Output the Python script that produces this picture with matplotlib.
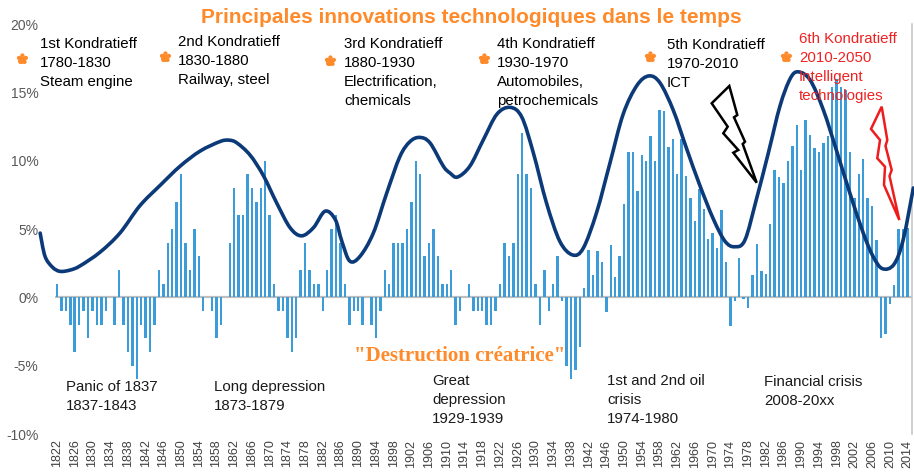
import numpy as np
import matplotlib.pyplot as plt
from matplotlib.patches import Polygon, PathPatch, Circle
from matplotlib.path import Path

plt.rcParams['font.family'] = ['Liberation Sans', 'DejaVu Sans']

# yearly growth (%), 1822-2014
years = np.arange(1822, 2015)
growth = [
    1, -1, -1, -2, -4, -2, -1, -3,                      # 1822-1829
    -1, -2, -2, -1, 0, -2, 2, -2, -4, -5,               # 1830s
    -6, -2, -3, -4, -2, 2, 1, 4, 5, 7,                  # 1840s
    9, 4, 2, 5, 3, -1, 0, -1, -3, -2,                   # 1850s
    0, 4, 8, 6, 6, 9, 8, 7, 8, 10,                      # 1860s
    6, 1, -1, -1, -3, -4, -3, 2, 4, 2,                  # 1870s
    1, 1, -1, 2, 5, 6, 4, 1, -2, -1,                    # 1880s
    -1, -2, 0, -2, -3, -1, 2, 1, 4, 4,                  # 1890s
    4, 5, 7, 10, 9, 3, 4, 5, 3, 1,                      # 1900s
    1, 2, -2, -1, 0, 1, -1, -1, -1, -2,                 # 1910s
    -2, -1, 1, 4, 3, 4, 9, 12, 9, 8,                    # 1920s
    1, -2, 2, -1, 1, 3, -0.3, -5, -6, -5.3,             # 1930s
    -3.6, 0.7, 3.5, 1.6, 3.4, 2.6, -1.1, 3.8, 1.5, 3,   # 1940s
    6.8, 10.6, 10.6, 7.8, 10.4, 10, 11.8, 10, 13.7, 13.6,   # 1950s
    11, 11.6, 9, 11.6, 8.9, 7.3, 5.6, 7.9, 6.5, 4.3,        # 1960s
    4.7, 3.6, 6.4, 2.6, -2.1, -0.3, 2.9, -0.1, -0.8, 1.6,   # 1970s
    3.9, 1.9, 1.7, 5.4, 9.3, 8.8, 8.4, 10, 11.1, 12.6,      # 1980s
    9.3, 13, 11.9, 10.9, 10.6, 11.3, 11.8, 15.4, 16, 15.4,  # 1990s
    15.2, 10.6, 7.3, 9, 10.1, 7.3, 6.7, 4.2, -3, -2.7,      # 2000s
    -0.5, 0.9, 5, 5, 5.1,                                   # 2010-2014
]

# long wave curve, read as (year, %)
wave_years = [1818.2, 1819.3, 1821, 1822.7, 1825, 1827.2, 1831.7, 1836.2, 1840.7,
              1845.3, 1849.8, 1854.3, 1858.8, 1860.8, 1862.6, 1865.6, 1868.6,
              1871.6, 1874.6, 1877.2, 1879.9, 1882.5, 1884.8, 1886.3, 1888.1,
              1890.4, 1893.4, 1896.4, 1899.4, 1901.7, 1903.9, 1906.2, 1909.2,
              1910.7, 1912.4, 1915.2, 1918.2, 1921.3, 1924.3, 1926.9, 1929.5,
              1932.5, 1935.5, 1938.4, 1940.8, 1943.8, 1946.8, 1949.8, 1952.9,
              1955.6, 1958.1, 1961.1, 1964.1, 1967.1, 1970.2, 1972.8, 1975,
              1977.3, 1979.9, 1982.6, 1985.2, 1987.5, 1989.3, 1992, 1995, 1998,
              2001, 2004, 2006.2, 2008.3, 2010.9, 2013, 2015.3]
wave_pct = [4.7, 3.0, 2.2, 1.9, 2.0, 2.3, 3.3, 4.7, 6.7,
            8.2, 9.6, 10.7, 11.4, 11.5, 11.3, 10.4, 8.9,
            6.9, 5.1, 4.5, 5.1, 6.3, 5.7, 4.1, 2.65,
            3.0, 4.7, 7.6, 10.3, 11.4, 11.7, 11.3, 9.6,
            9.1, 8.8, 9.6, 11.5, 13.4, 13.9, 13.2, 10.6,
            6.9, 4.1, 3.1, 3.6, 6.2, 9.8, 13.4, 15.5,
            16.2, 15.7, 13.7, 10.9, 8.2, 5.7, 4.1, 3.7,
            4.2, 7.2, 10.6, 14.0, 16.0, 16.5, 15.9, 13.7, 10.7,
            7.6, 4.7, 3.0, 2.1, 2.4, 4.2, 8.0]

yticks = [-10, -5, 0, 5, 10, 15, 20]
xticks = list(range(1822, 2015, 4))


def smooth_path(xs, ys):
    # smoothed line (cubic bezier segments through every point)
    p = np.column_stack([xs, ys])
    n = len(p)
    verts = [p[0]]
    codes = [Path.MOVETO]
    for i in range(n - 1):
        p0 = p[max(i - 1, 0)]
        p3 = p[min(i + 2, n - 1)]
        c1 = p[i] + (p[i + 1] - p0) / 6
        c2 = p[i + 1] - (p3 - p[i]) / 6
        verts += [c1, c2, p[i + 1]]
        codes += [Path.CURVE4] * 3
    return Path(verts, codes)


W, H = 914, 474
fig = plt.figure(figsize=(W / 100, H / 100), dpi=100)
ax = fig.add_axes([55 / W, 1 - 434 / H, (912 - 55) / W, (434 - 24) / H])

ax.bar(years, growth, width=0.55, color='#3b9cd9', zorder=2)
ax.axhline(0, color='#bfbfbf', lw=1.6, zorder=1)
ax.add_patch(PathPatch(smooth_path(wave_years, wave_pct), fill=False,
                       edgecolor='#0c3a78', lw=2.6, zorder=3, clip_on=False,
                       capstyle='round', joinstyle='round'))

ax.set_xlim(1821.55, 2015.0)
ax.set_ylim(-10, 20)
ax.set_yticks(yticks)
ax.set_yticklabels([f'{t}%' for t in yticks], fontsize=10, color='#595959')
ax.set_xticks(xticks)
ax.set_xticklabels([str(t) for t in xticks], rotation=90, fontsize=9, color='#404040')
ax.tick_params(length=0, pad=4)
ax.tick_params(axis='y', pad=12)
for s in ['left', 'top', 'bottom']:
    ax.spines[s].set_visible(False)
ax.spines['right'].set_color('#c8c8c8')
ax.spines['right'].set_linewidth(1.2)


def ftext(x, y, s, **kw):
    kw.setdefault('fontsize', 10.8)
    kw.setdefault('va', 'top')
    kw.setdefault('linespacing', 1.45)
    fig.text(x / W, 1 - y / H, s, **kw)


orange = '#ff8a2a'
ftext(471, 8, 'Principales innovations technologiques dans le temps',
      ha='center', fontsize=15, fontweight='bold', color=orange)

waves = [
    (22, 60, 40, 37, '1st Kondratieff\n1780-1830\nSteam engine', 'black'),
    (165, 58, 178, 35, '2nd Kondratieff\n1830-1880\nRailway, steel', 'black'),
    (330, 62, 344, 37, '3rd Kondratieff\n1880-1930\nElectrification,\nchemicals', 'black'),
    (484, 60, 497, 37, '4th Kondratieff\n1930-1970\nAutomobiles,\npetrochemicals', 'black'),
    (650, 58, 667, 38, '5th Kondratieff\n1970-2010\nICT', 'black'),
    (786, 58, 799, 32, '6th Kondratieff\n2010-2050\nIntelligent\ntechnologies', '#ee2222'),
]
for mx, my, tx, ty, label, col in waves:
    fig.patches.append(Circle((mx, H - my), 3.2, color=orange, transform=None,
                              figure=fig))
    fig.text(mx / W, 1 - my / H, '\u273f', family='DejaVu Sans', fontsize=11,
             color=orange, ha='center', va='center')
    ftext(tx, ty, label, color=col)

crises = [
    (66, 380, 'Panic of 1837\n1837-1843'),
    (214, 380, 'Long depression\n1873-1879'),
    (432, 374, 'Great\ndepression\n1929-1939'),
    (607, 374, '1st and 2nd oil\ncrisis\n1974-1980'),
    (764, 375, 'Financial crisis\n2008-20xx'),
]
for tx, ty, label in crises:
    ftext(tx, ty, label, color='#1a1a1a')

ftext(460, 346, '"Destruction créatrice"', ha='center', fontsize=15,
      fontweight='bold', color=orange, family='Liberation Serif')

# lightning bolts
black_bolt = [(711.7, 103.3), (729.3, 86), (737.3, 115), (734, 117.3), (745, 141.7),
              (742.7, 144), (756.7, 182.7), (733.3, 152.7), (738.3, 150),
              (723.3, 133.3), (727.7, 126.7)]
red_bolt = [(871, 129), (881.7, 106.7), (887.3, 140), (885.5, 146), (891.7, 170),
            (889.5, 176), (899.3, 220), (884, 185), (885, 166.7), (877.3, 158.3),
            (880, 140)]
for pts, col in [(black_bolt, 'black'), (red_bolt, '#ee1c1c')]:
    fpts = [(x / W, 1 - y / H) for x, y in pts]
    fig.patches.append(Polygon(fpts, closed=True, fill=False, edgecolor=col,
                               lw=1.8, transform=fig.transFigure, figure=fig))

fig.savefig('out.png', dpi=100)
